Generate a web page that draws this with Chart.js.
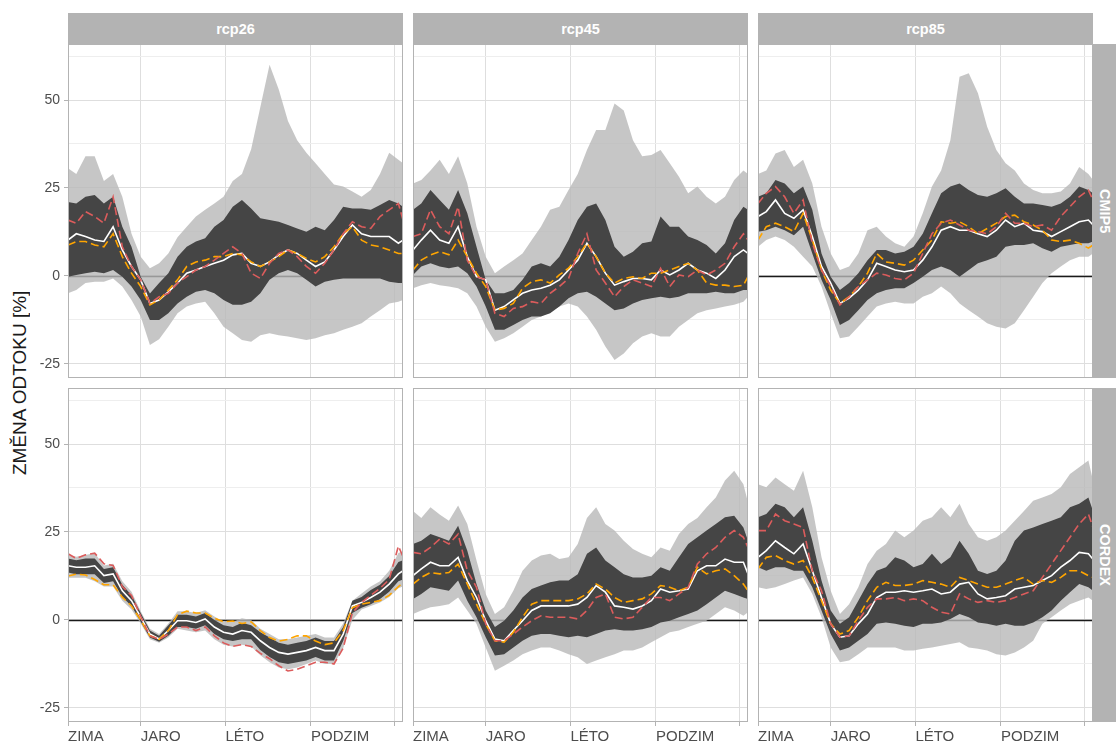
<!DOCTYPE html>
<html>
<head>
<meta charset="utf-8">
<script src="https://cdn.jsdelivr.net/npm/chart.js@4.4.0/dist/chart.umd.min.js"></script>
<style>
  body { margin: 0; background: #fff; width: 1116px; height: 745px; overflow: hidden; position: relative;
         font-family: "Liberation Sans", Arial, sans-serif; }
  canvas { position: absolute; }
  .strip { position: absolute; background: #b3b3b3; color: #fff; font-weight: bold; font-size: 14.5px;
           display: flex; align-items: center; justify-content: center; }
  .vstrip { writing-mode: vertical-rl; }
  #ytitle { position: absolute; left: 9px; top: 44px; width: 22px; height: 678px; writing-mode: vertical-rl;
            transform: rotate(180deg); text-align: center; font-size: 19px; color: #1a1a1a; line-height: 22px; }
</style>
</head>
<body>
<div id="ytitle">ZMĚNA ODTOKU [%]</div>
<script>
// den v roce (1 = 1. ledna), vzorek po cca 10 dnech
const days = [1, 10, 20, 30, 40, 50, 60, 70, 80, 90, 100, 110, 120, 130, 140, 150, 160, 170, 180,
  190, 200, 210, 220, 230, 240, 250, 260, 270, 280, 290, 300, 310, 320, 330, 340, 350, 360, 365];
const xTickDays = [1, 80, 172, 265, 356];
const xTickLabels = ['ZIMA', 'JARO', 'LÉTO', 'PODZIM', ''];
const yTickValues = [-25, -12.5, 0, 12.5, 25, 37.5, 50, 62.5];
const models = ['CMIP5', 'CORDEX'];
const scenarios = ['rcp26', 'rcp45', 'rcp85'];

// CMIP5 rcp26
const cmip5_rcp26_lightHi = [30.6, 29, 34, 34, 27, 29, 22.5, 12, 5.5, 2.2, 3.6, 6.4, 11, 14, 16.9, 18.8, 20.6, 22.5, 27, 29, 36, 48, 60, 53, 44, 38.6, 35, 32, 29, 26, 25.4, 24, 22.5, 24.4, 29, 35, 33, 32];
const cmip5_rcp26_lightLo = [-4.9, -4, -2, -1.6, -1.6, -0.7, -3, -6.8, -11.5, -19.6, -18, -14.4, -10.6, -8.7, -7.8, -7.3, -10.6, -14.4, -16.3, -18.2, -18.7, -16.8, -16.3, -16.8, -17.2, -17.7, -18.2, -17.7, -16.8, -16.3, -15.3, -14.4, -13.4, -11.5, -9.7, -7.8, -7.3, -6.8];
const cmip5_rcp26_darkHi = [21, 20.6, 22.5, 23, 20.6, 22.5, 14, 8.3, -0.2, -5, -2, 0.8, 5.5, 8.3, 9.8, 10.7, 14, 15.9, 19.7, 21.6, 19.2, 16.4, 15.9, 15.4, 14.5, 13.5, 12.6, 14, 13, 15.9, 19.7, 19.2, 19.2, 18.8, 20.2, 21.6, 20.6, 19.7];
const cmip5_rcp26_darkLo = [-0.2, 0.3, 0.8, 1.2, 0.8, 1.7, -0.2, -3, -6.8, -12.5, -12.5, -10.6, -7.8, -5.9, -4.5, -4, -4.9, -6.8, -8.2, -8.2, -7.3, -4.9, -1.1, 0.8, 1.7, 0.8, -1.1, -3, -1.6, -1.1, -0.7, -0.7, -0.7, -0.7, -0.7, -1.6, -2, -2];
const cmip5_rcp26_median = [10.2, 12, 11.2, 10.2, 9.8, 14, 7.4, 2.7, -1.1, -7.8, -6.8, -4.5, -2, 0.8, 1.7, 2.7, 3.6, 4.5, 6, 6.4, 3.6, 2.7, 4, 6, 7.4, 6.4, 4.5, 2.7, 4, 7.4, 11.2, 14.5, 12, 11.2, 11.2, 11.2, 9.3, 10.2];
const cmip5_rcp26_red = [15.9, 15, 18.3, 16.9, 15, 22.5, 8.3, 2.7, -1.1, -7.8, -5.9, -4.9, -2, -0.2, 1.7, 2.7, 4.5, 6.4, 8.3, 6.4, 0.8, -0.7, 3.6, 6.4, 7.4, 5.5, 2.7, 0.8, 3.6, 7.4, 12, 15.4, 14, 13.5, 16.9, 18.8, 20.6, 15.9];
const cmip5_rcp26_orange = [8.8, 9.8, 9.8, 8.8, 8.3, 12, 5.5, 0.8, -3, -8.2, -6.8, -4, -1.1, 2.7, 4, 4.5, 5.5, 5.5, 6.4, 6, 4, 2.7, 4, 5.5, 7.4, 6.4, 5, 4, 5.5, 8.3, 12, 14, 10.2, 8.8, 8.3, 7.4, 6.4, 6.4];

// CMIP5 rcp45
const cmip5_rcp45_lightHi = [26.3, 27.3, 30, 33, 29, 34, 26.3, 14, 5.5, 0.8, 2.7, 4.5, 6.4, 10.2, 14, 18.8, 19.7, 24.4, 29, 35.8, 41.5, 41.5, 49, 47, 38.6, 34, 34.4, 35.8, 32, 28.2, 23.5, 25.4, 22.5, 20.6, 22.5, 27.3, 30, 29];
const cmip5_rcp45_lightLo = [-3.5, -2.6, -2, -2.6, -3, -3.5, -4.9, -8.7, -14.4, -18.7, -17.7, -16.3, -14.4, -12.5, -11.5, -10.1, -8.7, -7.8, -8.7, -11.5, -15.3, -20, -23.9, -22, -19.1, -17.2, -16.3, -17.2, -17.2, -14.4, -12.5, -10.6, -9.7, -9.2, -8.7, -8.2, -7.3, -5.9];
const cmip5_rcp45_darkHi = [18.8, 20.6, 24.4, 21.6, 18.8, 24.4, 17.8, 8.3, -1.1, -4.9, -4.9, -4, -1.1, 2.7, 3.6, 2.7, 5.5, 10.2, 15.9, 19.7, 20.6, 15.9, 8.3, 5.5, 6.9, 9.3, 9.8, 16.9, 14, 14, 11.2, 10.2, 8.8, 6.4, 9.3, 15.9, 19.7, 18.8];
const cmip5_rcp45_darkLo = [0.3, 2.7, 3.6, 2.7, 2.2, 2.7, 0.8, -3, -8.7, -15.3, -15.3, -13.9, -12.5, -11.5, -11.5, -10.6, -8.7, -6.3, -4.9, -4.5, -5.9, -7.8, -9.7, -9.2, -7.8, -6.8, -6.3, -5.9, -6.3, -5.9, -4.9, -4.9, -4.9, -4.5, -4.9, -4.9, -4, -4];
const cmip5_rcp45_median = [7.4, 10.2, 13, 10.2, 9.3, 14, 5.5, -0.2, -1.1, -9.7, -8.7, -6.8, -4.9, -4, -3.5, -2.6, -1.1, 1.7, 4.5, 9.3, 5.5, 0.8, -2.6, -1.6, -0.7, -0.7, -1.1, 1.7, 0.3, 1.7, 3.6, 1.7, 0.8, -0.7, 1.7, 5.5, 7.4, 6.4];
const cmip5_rcp45_red = [11.2, 12, 18.8, 14, 12, 19.7, 4.5, -0.2, -1.1, -10.6, -11.5, -9.2, -8.7, -7.3, -7.8, -4.9, -3, -0.7, 6.4, 12, 1.7, -2, -5.9, -3, -1.1, -2, -3, 2.2, -3, 0.3, -0.2, 1.7, 0.3, 1.7, 3.6, 8.3, 12, 10.2];
const cmip5_rcp45_orange = [1.7, 4.5, 6, 6.9, 6, 10.2, 5.5, 0.8, -3, -9.7, -9.2, -7.8, -3.5, -1.6, -1.1, -2, 0.3, 2.2, 5.5, 9.3, 5.5, 0.8, -2, -0.7, -0.2, -0.7, 0.8, 0.8, 1.7, 2.7, 3.6, 1.7, -2, -2.6, -2.6, -3, -2.6, -0.2];

// CMIP5 rcp85
const cmip5_rcp85_lightHi = [29, 30, 34.8, 35.8, 31, 33, 26.3, 14, 6.4, 1.7, 2.7, 6.4, 13, 14, 11.2, 9.3, 8.3, 11.2, 17.8, 25.4, 30, 38.6, 56.6, 57.6, 51.9, 42.4, 35.8, 32, 30, 26.3, 24.4, 23.5, 23.5, 24, 26.3, 31, 29, 27.3];
const cmip5_rcp85_lightLo = [8.3, 10.2, 11.2, 10.2, 8.3, 5.5, 2.7, -3, -10.6, -17.7, -17.2, -14.4, -11.5, -8.7, -7.8, -7.3, -7.8, -7.8, -5.9, -4.9, -3, -4.9, -7.8, -9.7, -11.5, -13.4, -14.4, -14.9, -13.4, -9.7, -5.9, -2, 0.8, 2.7, 4.5, 5.5, 5.5, 6.4];
const cmip5_rcp85_darkHi = [22.5, 23.5, 27.3, 26.3, 23.5, 25.4, 18.8, 6.4, -0.2, -4, -2, 0.8, 4.5, 7.4, 7.4, 6.4, 6.9, 8.3, 12, 17.8, 23.5, 25.4, 26.3, 24.4, 23, 22.5, 23.5, 24.9, 22.5, 20.6, 20.6, 20.2, 19.7, 20.6, 22.5, 25.4, 24.4, 23.5];
const cmip5_rcp85_darkLo = [12.6, 13, 14, 13, 11.6, 14, 6.4, -1.1, -6.8, -13.9, -12.5, -9.7, -6.8, -4.9, -4, -3.5, -3.5, -2, -0.2, 1.7, 2.7, 1.7, -0.2, 1.7, 3.6, 4.5, 5.5, 8.3, 8.8, 8.8, 9.3, 7.9, 6.9, 8.3, 8.8, 9.3, 9.3, 9.8];
const cmip5_rcp85_median = [16.9, 18.3, 21.6, 17.8, 16.4, 18.8, 11.2, 2.7, -2, -7.8, -6.3, -4, -1.1, 3.6, 2.7, 1.7, 1.2, 1.7, 4.5, 8.3, 13, 14, 13, 13, 12, 11.2, 13, 15.9, 14, 15, 13, 12.6, 11.2, 12.6, 14, 15.4, 15.9, 14.5];
const cmip5_rcp85_red = [20.6, 23.5, 25.4, 22.5, 17.8, 21.6, 9.3, 1.7, -3, -8.2, -5.9, -3, -1.1, 0.8, 0.3, -0.7, -1.1, 0.8, 6.4, 12, 15, 15.9, 14.5, 13, 12.6, 12, 14, 17.8, 15, 15, 14, 14.5, 13, 16.9, 19.7, 22.5, 24.4, 21.6];
const cmip5_rcp85_orange = [10.2, 14, 15, 14, 12.6, 17.8, 10.2, 1.7, -4, -7.8, -5.9, -3, 0.8, 6.4, 4, 3.6, 3.1, 4.5, 7.4, 10.2, 15.4, 15, 15.4, 14, 12, 13.5, 15, 16.9, 17.3, 15.4, 14.5, 13, 10.2, 9.8, 10.2, 9.3, 7.9, 8.8];

// CORDEX rcp26
const cordex_rcp26_lightHi = [18.5, 18, 18.5, 19, 15.5, 16, 11, 8, 2.5, -2.5, -4, -1, 2.5, 2.5, 2, 2.8, 1, -0.5, -0.5, 0.5, 0, -2.5, -4, -5.5, -5.5, -5, -4.5, -4, -5, -5, -1, 5.5, 7.5, 9.5, 11, 14, 19, 19.5];
const cordex_rcp26_lightLo = [12, 12, 12, 11, 9.5, 9.5, 5.5, 3, -1, -5.5, -6.5, -5, -2.5, -3, -3.5, -3, -5.5, -7, -7.5, -7, -7.5, -10, -12, -13.5, -14, -13.5, -12.5, -11.5, -12.5, -12.5, -8, 0, 3, 4, 5, 6.5, 9, 9.5];
const cordex_rcp26_darkHi = [17.5, 17, 17.5, 17.5, 14.5, 15, 10, 7, 2, -3, -4.5, -1.5, 1.5, 1.5, 1, 2, 0, -1.5, -2, -0.8, -1.5, -3.5, -5, -6.5, -7, -6.5, -6, -5, -6, -6, -2, 5.5, 6.5, 8.5, 10, 12.5, 16.5, 17];
const cordex_rcp26_darkLo = [13.5, 13, 13, 13, 10.5, 11, 6.5, 4, -0.5, -5, -6.2, -4.5, -2, -2, -2.5, -1.5, -4, -5.5, -6, -5.5, -5.5, -8.5, -10.5, -12, -12.5, -12, -11.5, -10.5, -11.5, -11.5, -6, 2, 3.5, 4.5, 6, 8, 11, 11.5];
const cordex_rcp26_median = [15.4, 15, 15, 15.4, 12.6, 13.1, 8.3, 5.5, 0.8, -4, -5.4, -3, -0.2, -0.2, -0.7, 0.3, -2, -3.5, -4, -3, -3.5, -5.9, -7.8, -9.2, -9.7, -9.2, -8.7, -7.8, -8.7, -8.7, -4, 4, 5, 6.4, 7.9, 10.2, 13.1, 14];
const cordex_rcp26_red = [18.8, 17.5, 18.5, 19, 16, 15.5, 9.5, 7, 1, -4.5, -5.5, -4, -2, -2, -3, -2, -4.5, -6.5, -7.5, -7, -7.5, -9.5, -11, -13, -14.5, -14, -13, -12, -12, -12.5, -8, 2, 5, 7, 9, 11.5, 21, 18];
const cordex_rcp26_orange = [12.5, 13, 12.8, 11.5, 10, 10, 6.5, 4, 0, -4.5, -5.5, -3, 1.5, 2.5, 2, 2, 0.5, -0.5, -0.3, -1, -0.5, -3, -5, -6, -5.5, -4.5, -4.5, -6, -7, -6.5, -3, 3.5, 4.5, 5, 5.5, 7, 9.5, 10.5];

// CORDEX rcp45
const cordex_rcp45_lightHi = [31, 29, 32, 30, 28.2, 32.5, 27.3, 16.9, 7.4, 1.7, 3.6, 8.3, 14, 16.9, 18.3, 18.8, 17.3, 17.8, 21.6, 29, 32, 27.3, 25.4, 22.5, 20.2, 18.8, 17.8, 20.6, 19.7, 24.4, 27.3, 29, 32, 34.8, 39.6, 42.4, 38.6, 33.4];
const cordex_rcp45_lightLo = [1.7, 2.7, 3.6, 4, 4.5, 6.4, 2.7, -1.1, -7.8, -14.4, -13, -11.5, -9.7, -8.7, -7.8, -7.8, -8.7, -9.7, -10.6, -12.5, -11.5, -10.6, -9.7, -8.7, -8.7, -7.8, -6.3, -4.9, -3.5, -3, -2, -1.1, -0.2, 1.7, 3.6, 2.7, 1.2, 2.2];
const cordex_rcp45_darkHi = [21.6, 22.5, 24.4, 23.5, 22.5, 26.8, 19.7, 10.2, 2.7, -2, -0.2, 2.7, 6.4, 8.8, 9.8, 10.7, 11.2, 11.2, 13, 18.8, 20.6, 16.9, 15, 13, 12.1, 12.1, 12.6, 15, 14, 17.8, 21.6, 23.5, 25.4, 27.3, 29.2, 29.6, 26.3, 22.5];
const cordex_rcp45_darkLo = [6, 7.4, 9.3, 8.8, 8.3, 11.2, 5.5, 0.8, -4.9, -10.1, -9.7, -7.8, -5.9, -4.5, -4, -4, -4.5, -4.9, -4.5, -4.9, -4, -3, -2.6, -3, -3, -2.6, -2, -0.7, -0.2, 0.8, 1.7, 2.7, 4.5, 6.4, 8.3, 7.4, 6.4, 6];
const cordex_rcp45_median = [12.6, 14.5, 16.4, 15.4, 15.4, 17.8, 11.2, 6.4, -0.2, -5.4, -5.9, -3, -0.2, 2.7, 4, 4, 4, 4, 4.5, 6.4, 9.8, 7.9, 4, 3.6, 3.1, 4, 5.5, 8.8, 7.9, 8.3, 8.8, 14, 15.4, 15.4, 17.3, 16.4, 16.4, 13.1];
const cordex_rcp45_red = [19.2, 18.8, 20.6, 23, 21.6, 24.4, 14, 9.3, -1.1, -5.9, -5.9, -4, -2, -0.2, 1.2, 0.8, 0.8, 0.8, 0.3, 2.7, 6.4, 7.4, 0.8, 0.3, 0.8, 3.6, 6.4, 6.4, 5.5, 7.4, 9.3, 15.9, 18.8, 20.6, 23.5, 25.4, 23.5, 20.6];
const cordex_rcp45_orange = [10.2, 12.1, 13.5, 13.1, 13.5, 15.9, 10.2, 4.5, -1.1, -5.9, -6.3, -3.5, 0.8, 4.5, 5.5, 5.5, 5.5, 5.5, 6, 7.4, 10.2, 8.8, 6.4, 5, 5.5, 6, 7.4, 9.8, 9.3, 8.3, 9.3, 15, 13.1, 14, 14.5, 12.6, 10.2, 8.3];

// CORDEX rcp85
const cordex_rcp85_lightHi = [38.6, 37.7, 40.5, 38.6, 36.7, 42.4, 32, 17.8, 8.3, 1.7, 4.5, 9.3, 15.9, 19.7, 21.6, 25.4, 23.5, 25.4, 28.2, 29.2, 32, 29.2, 33, 27.3, 23.5, 22.5, 23.5, 25.4, 28.2, 31, 33.9, 34.8, 35.8, 37.7, 41.5, 43.4, 45.3, 39.6];
const cordex_rcp85_lightLo = [9.3, 8.8, 9.3, 10.2, 11.2, 12.1, 7.4, 0.8, -7.8, -12, -11.5, -9.7, -7.8, -7.8, -7.8, -7.8, -8.7, -8.7, -8.2, -7.8, -7.3, -6.8, -6.3, -7.8, -8.2, -8.7, -9.7, -10.1, -9.2, -7.8, -5.9, -1.1, 0.8, 2.7, 4.5, 5.5, 6.4, 5.5];
const cordex_rcp85_darkHi = [29.2, 30.1, 33, 32, 29.2, 32, 22.5, 11.2, 2.7, -1.1, 0.8, 5.5, 10.2, 14, 15, 17.8, 16.9, 15, 15.9, 18.8, 15.9, 17.8, 22.5, 18.8, 14, 13.1, 14, 16.9, 22.5, 25.4, 26.3, 27.3, 28.2, 29.2, 32, 33, 34.8, 31];
const cordex_rcp85_darkLo = [15, 14, 15, 15, 14, 14, 9.3, 2.7, -4, -8.7, -7.8, -5.9, -4, -1.1, -0.7, -1.1, -1.6, -2, -1.1, -1.1, -0.7, 0.3, 1.7, 0.8, -0.7, -1.1, -1.6, -1.1, -1.6, -1.6, -0.7, 0.8, 2.7, 5.5, 7.9, 10.2, 9.3, 8.3];
const cordex_rcp85_median = [17.8, 19.7, 22.5, 20.6, 18.8, 21.6, 14, 6.4, -1.1, -4.9, -4.5, -1.1, 1.7, 6.4, 7.9, 7.9, 8.3, 7.9, 8.3, 8.8, 7.4, 7.9, 10.2, 10.7, 7.4, 6, 6.4, 6.9, 8.8, 9.3, 9.8, 11.2, 12.6, 15, 16.9, 19.2, 18.8, 17.3];
const cordex_rcp85_red = [25.4, 25.4, 30.1, 28.2, 27.3, 26.3, 14, 8.3, -1.1, -4.9, -4.5, -0.2, 3.6, 6, 6, 6.4, 5.5, 6, 5.5, 3.6, 2.2, 1.7, 7.4, 6, 5, 5.5, 5, 5.5, 6.4, 7.4, 8.3, 12.1, 15.9, 19.7, 23.5, 27.3, 30.1, 26.3];
const cordex_rcp85_orange = [14.5, 17.8, 18.3, 16.9, 15.9, 16.9, 12.1, 5.5, -1.1, -4, -3, 0.8, 5.5, 9.3, 10.7, 9.8, 9.8, 10.2, 11.2, 10.7, 10.2, 9.3, 12.1, 11.2, 10.2, 9.3, 9.3, 10.2, 11.2, 12.1, 10.2, 11.2, 10.7, 12.1, 14, 14, 12.6, 12.1];

const panels = [
  [
    [cmip5_rcp26_lightHi, cmip5_rcp26_lightLo, cmip5_rcp26_darkHi, cmip5_rcp26_darkLo, cmip5_rcp26_median, cmip5_rcp26_red, cmip5_rcp26_orange],
    [cmip5_rcp45_lightHi, cmip5_rcp45_lightLo, cmip5_rcp45_darkHi, cmip5_rcp45_darkLo, cmip5_rcp45_median, cmip5_rcp45_red, cmip5_rcp45_orange],
    [cmip5_rcp85_lightHi, cmip5_rcp85_lightLo, cmip5_rcp85_darkHi, cmip5_rcp85_darkLo, cmip5_rcp85_median, cmip5_rcp85_red, cmip5_rcp85_orange]
  ],
  [
    [cordex_rcp26_lightHi, cordex_rcp26_lightLo, cordex_rcp26_darkHi, cordex_rcp26_darkLo, cordex_rcp26_median, cordex_rcp26_red, cordex_rcp26_orange],
    [cordex_rcp45_lightHi, cordex_rcp45_lightLo, cordex_rcp45_darkHi, cordex_rcp45_darkLo, cordex_rcp45_median, cordex_rcp45_red, cordex_rcp45_orange],
    [cordex_rcp85_lightHi, cordex_rcp85_lightLo, cordex_rcp85_darkHi, cordex_rcp85_darkLo, cordex_rcp85_median, cordex_rcp85_red, cordex_rcp85_orange]
  ]
];

// rozmisteni panelu (px)
const colX = [68, 413, 758];
const rowY = [44, 388];
const panelW = 335, panelH = 334;
const yMin = -28.98, yMax = 65.91;

function addDiv(cls, text, l, t, w, h) {
  const d = document.createElement('div');
  d.className = cls;
  d.textContent = text;
  Object.assign(d.style, { left: l + 'px', top: t + 'px', width: w + 'px', height: h + 'px' });
  document.body.appendChild(d);
}
scenarios.forEach((s, c) => addDiv('strip', s, colX[c], 13, panelW, 31));
models.forEach((m, r) => addDiv('strip vstrip', m, colX[2] + panelW, rowY[r], 1116 - colX[2] - panelW, panelH));

const panelDecor = {
  id: 'panelDecor',
  beforeDatasetsDraw(chart) {
    const { ctx, chartArea: a, scales: { y } } = chart;
    const py = Math.round(y.getPixelForValue(0)) + 0.5;
    ctx.save();
    ctx.strokeStyle = '#1a1a1a';
    ctx.lineWidth = 1.6;
    ctx.beginPath(); ctx.moveTo(a.left, py); ctx.lineTo(a.right, py); ctx.stroke();
    ctx.restore();
  },
  afterDraw(chart) {
    const { ctx, chartArea: a } = chart;
    ctx.save();
    ctx.strokeStyle = '#b3b3b3';
    ctx.lineWidth = 1;
    ctx.strokeRect(a.left + 0.5, a.top + 0.5, a.right - a.left - 1, a.bottom - a.top - 1);
    ctx.restore();
  }
};

function series(arr, opts) {
  return Object.assign({
    data: days.map((d, i) => ({ x: d, y: arr[i] })),
    pointRadius: 0, borderWidth: 0, borderColor: 'rgba(0,0,0,0)', tension: 0, fill: false
  }, opts);
}

panels.forEach((row, r) => row.forEach((p, c) => {
  const [lightHi, lightLo, darkHi, darkLo, median, red, orange] = p;
  const axisW = c === 0 ? 68 : 0;
  const axisH = r === 1 ? 23 : 0;
  const cv = document.createElement('canvas');
  cv.width = panelW + axisW;
  cv.height = panelH + axisH;
  cv.style.left = (colX[c] - axisW) + 'px';
  cv.style.top = rowY[r] + 'px';
  document.body.appendChild(cv);

  new Chart(cv.getContext('2d'), {
    type: 'line',
    data: {
      datasets: [
        series(red, { borderColor: '#dc5c5c', borderWidth: 1.6, borderDash: [8, 4] }),
        series(orange, { borderColor: '#ffa500', borderWidth: 1.6, borderDash: [8, 4] }),
        series(median, { borderColor: '#ffffff', borderWidth: 1.6 }),
        series(darkHi, { fill: '+1', backgroundColor: '#454545' }),
        series(darkLo, {}),
        series(lightHi, { fill: '+1', backgroundColor: 'rgba(184,184,184,0.8)' }),
        series(lightLo, {})
      ]
    },
    options: {
      responsive: false,
      animation: false,
      layout: { padding: 0 },
      plugins: { legend: { display: false }, tooltip: { enabled: false } },
      scales: {
        x: {
          type: 'linear', min: 1, max: 365,
          afterBuildTicks: s => { s.ticks = xTickDays.map(v => ({ value: v })); },
          afterFit: s => { s.height = axisH; s.paddingLeft = 0; s.paddingRight = 0; },
          ticks: {
            display: r === 1, align: 'start', maxRotation: 0, autoSkip: false, padding: 2,
            color: '#4d4d4d', font: { family: '"Liberation Sans", Arial, sans-serif', size: 15 },
            callback: (v, i) => xTickLabels[i]
          },
          grid: { color: '#dedede', lineWidth: 1, drawTicks: r === 1, tickLength: 4, tickColor: '#b3b3b3' },
          border: { display: false }
        },
        y: {
          type: 'linear', min: yMin, max: yMax,
          afterBuildTicks: s => { s.ticks = yTickValues.map(v => ({ value: v })); },
          afterFit: s => { s.width = axisW; s.paddingTop = 0; s.paddingBottom = 0; },
          ticks: {
            display: c === 0, autoSkip: false, padding: 4,
            color: '#4d4d4d', font: { family: '"Liberation Sans", Arial, sans-serif', size: 14 },
            callback: v => (v % 25 === 0 ? v : '')
          },
          grid: {
            color: ctx => (ctx.tick && ctx.tick.value % 25 === 0 ? '#dedede' : '#eeeeee'),
            lineWidth: 1, drawTicks: c === 0, tickLength: 4,
            tickColor: ctx => (ctx.tick && ctx.tick.value % 25 === 0 ? '#b3b3b3' : 'rgba(0,0,0,0)')
          },
          border: { display: false }
        }
      }
    },
    plugins: [panelDecor]
  });
}));
</script>
</body>
</html>
